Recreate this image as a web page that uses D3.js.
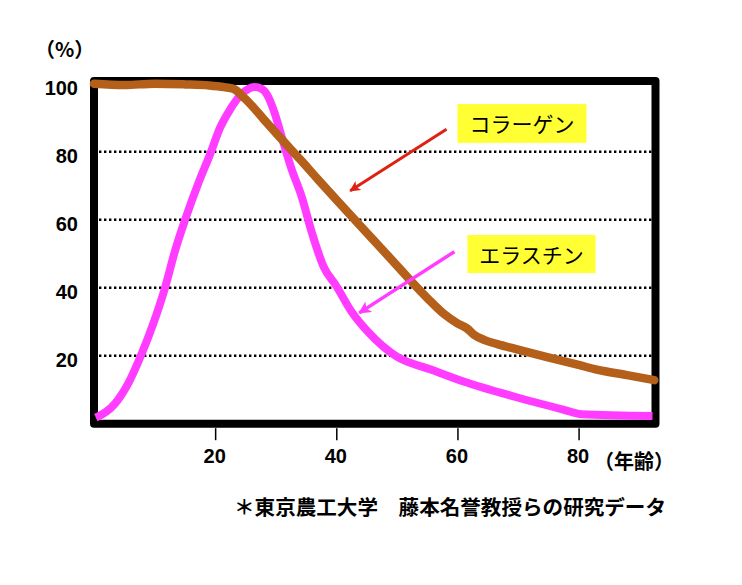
<!DOCTYPE html>
<html><head><meta charset="utf-8">
<script src="https://cdn.jsdelivr.net/npm/d3@7"></script>
<style>html,body{margin:0;padding:0;background:#fff;}svg{display:block;}</style>
</head><body>
<script>
// ---- data ----
const collagenAge = [0, 5, 10, 15, 19, 21.5, 23, 25, 28, 31, 34, 37, 40, 43, 46, 49, 52, 55, 57.7, 60, 61.6, 62.7, 64.5, 66.6, 70, 74.8, 80, 83, 88, 92.5];
const collagenVal = [100, 99.6, 100, 99.8, 99.5, 99, 98.5, 95.5, 89.6, 83.6, 77.8, 71.8, 65.9, 60.1, 54.3, 48.5, 42.6, 37, 32.4, 29.5, 28, 26.2, 24.6, 23.4, 21.8, 19.6, 17.3, 15.9, 14.3, 12.8];
const elastinAge = [0.3, 2, 3.5, 5.7, 7.9, 9.8, 11.7, 13.4, 15.2, 17.2, 19.2, 20.8, 22.5, 24.1, 25.5, 26.5, 27.7, 28.8, 29.6, 31.3, 32.6, 34.3, 36, 37.9, 40, 42.5, 45.5, 50, 55.5, 61, 69.3, 77.6, 80.5, 92.2];
const elastinVal = [1.8, 3.5, 6, 12, 20.7, 29.5, 39.8, 51, 60.8, 70.6, 79.4, 87, 92.5, 96.5, 98.5, 99, 98.5, 96, 92.5, 82.5, 75, 66.7, 56, 46.2, 40.5, 33, 26.5, 19.7, 16, 12.4, 8, 4.1, 2.8, 2.3];
const xTicks = [20, 40, 60, 80];
const yTicks = [20, 40, 60, 80, 100];
const gridVals = [20, 40, 60, 80];
const seriesNames = ["コラーゲン", "エラスチン"];
const xUnit = "（年齢）";
const yUnit = "（%）";
const note = "＊東京農工大学　藤本名誉教授らの研究データ";
// annotation anchors in data space [age, value]
const labelBoxes = [[60, 94, 81.3, 82.6], [61.65, 55.5, 82.8, 44.3]];
const arrows = [[58.2, 86.6, 42.3, 68.5], [59.5, 50.6, 43.8, 32.6]];

const W = 742, H = 585;
const svg = d3.select("body").append("svg").attr("width", W).attr("height", H);
svg.append("rect").attr("width", W).attr("height", H).attr("fill", "#fff");

const x = d3.scaleLinear().domain([0, 92.7]).range([94, 655.5]);
const y = d3.scaleLinear().domain([0, 100]).range([423.7, 83.7]);

const numFont = "'Liberation Sans', Arial, sans-serif";
const jpFont = "'Noto Sans CJK JP', sans-serif";

// gridlines
svg.append("g").selectAll("line").data(gridVals).join("line")
  .attr("x1", x(0)).attr("x2", x(92.7))
  .attr("y1", d => y(d)).attr("y2", d => y(d))
  .attr("stroke", "#000").attr("stroke-width", 2.4).attr("stroke-dasharray", "2.4,2.6");

// x axis ticks and labels
const xAxis = d3.axisBottom(x).tickValues(xTicks).tickSize(12).tickPadding(10).tickSizeOuter(0);
const gx = svg.append("g").attr("transform", `translate(0,${y(0) + 4.5})`).call(xAxis);
gx.select(".domain").remove();
gx.selectAll(".tick line").attr("stroke", "#000").attr("stroke-width", 1.5);
gx.selectAll(".tick text").attr("font-family", numFont).attr("font-size", 20).attr("font-weight", "bold").attr("fill", "#000").attr("dy", "0.66em").attr("dx", "-1");

// y axis labels
const yAxis = d3.axisLeft(y).tickValues(yTicks).tickSize(0).tickPadding(16);
const gy = svg.append("g").attr("transform", `translate(${x(0)},0)`).call(yAxis);
gy.select(".domain").remove();
gy.selectAll(".tick text").attr("font-family", numFont).attr("font-size", 20).attr("font-weight", "bold").attr("fill", "#000").attr("dy", "0.55em");

// frame
svg.append("rect")
  .attr("x", x(0)).attr("y", y(100.8))
  .attr("width", x(92.7) - x(0)).attr("height", y(0) - y(100.8))
  .attr("fill", "none").attr("stroke", "#000").attr("stroke-width", 8).attr("stroke-linejoin", "round");

// series lines
const line = d3.line().x(d => x(d[0])).y(d => y(d[1])).curve(d3.curveMonotoneX);
const elastin = elastinAge.map((a, i) => [a, elastinVal[i]]);
const collagen = collagenAge.map((a, i) => [a, collagenVal[i]]);
svg.append("path").datum(elastin).attr("d", line)
  .attr("fill", "none").attr("stroke", "#ff3cff").attr("stroke-width", 8).attr("stroke-linejoin", "round").attr("stroke-linecap", "butt");
svg.append("path").datum(collagen).attr("d", line)
  .attr("fill", "none").attr("stroke", "#b4601a").attr("stroke-width", 8.5).attr("stroke-linejoin", "round").attr("stroke-linecap", "round");

// arrows
const defs = svg.append("defs");
const arrowColors = ["#dd2211", "#ff3cff"];
arrowColors.forEach((c, i) => {
  defs.append("marker").attr("id", "ah" + i)
    .attr("viewBox", "0 0 10 10").attr("refX", 9).attr("refY", 5)
    .attr("markerWidth", 4.2).attr("markerHeight", 3.6).attr("markerUnits", "strokeWidth")
    .attr("orient", "auto")
    .append("path").attr("d", "M0,0 L10,5 L0,10 L2.5,5 Z").attr("fill", c);
});
svg.append("g").selectAll("line").data(arrows).join("line")
  .attr("x1", d => x(d[0])).attr("y1", d => y(d[1]))
  .attr("x2", d => x(d[2])).attr("y2", d => y(d[3]))
  .attr("stroke", (d, i) => arrowColors[i]).attr("stroke-width", (d, i) => i === 0 ? 3 : 3.5)
  .attr("marker-end", (d, i) => `url(#ah${i})`);

// label boxes
const lb = svg.append("g").selectAll("g").data(labelBoxes).join("g");
lb.append("rect")
  .attr("x", d => x(d[0])).attr("y", d => y(d[1]))
  .attr("width", d => x(d[2]) - x(d[0])).attr("height", d => y(d[3]) - y(d[1]))
  .attr("fill", "#ffff33");
lb.append("text")
  .attr("x", d => (x(d[0]) + x(d[2])) / 2).attr("y", d => (y(d[1]) + y(d[3])) / 2)
  .attr("text-anchor", "middle").attr("dominant-baseline", "central")
  .attr("font-family", jpFont).attr("font-size", 21).attr("fill", "#000")
  .text((d, i) => seriesNames[i]);

// units
svg.append("text").attr("x", 594).attr("y", y(0) + 45.5)
  .attr("font-family", jpFont).attr("font-size", 20).attr("font-weight", "bold").attr("fill", "#000")
  .text(xUnit);
svg.append("text").attr("x", 35).attr("y", 57)
  .attr("font-family", jpFont).attr("font-size", 20).attr("font-weight", "bold").attr("fill", "#000")
  .text(yUnit);

// footnote
svg.append("text").attr("x", 234).attr("y", 515)
  .attr("font-family", jpFont).attr("font-size", 20).attr("font-weight", "bold").attr("fill", "#000")
  .attr("textLength", 432).attr("lengthAdjust", "spacingAndGlyphs")
  .text(note);
</script>
</body></html>
